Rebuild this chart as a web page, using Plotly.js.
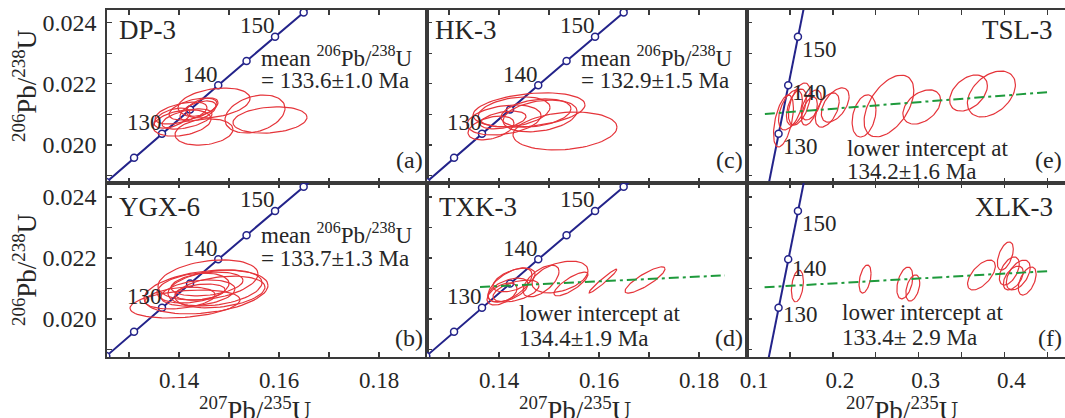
<!DOCTYPE html>
<html><head><meta charset="utf-8">
<script src="https://cdn.plot.ly/plotly-3.0.1.min.js"></script>
<style>html,body{margin:0;padding:0;background:#fff}#chart{width:1065px;height:418px}</style>
</head><body><div id="chart"></div>
<script>
// ---- Concordia reference points (age in Ma, 207Pb/235U, 206Pb/238U) ----
const conAge = [115,120,125,130,135,140,145,150,155,160];
const conX = [0.11992,0.12545,0.13100,0.13659,0.14220,0.14784,0.15350,0.15920,0.16492,0.17067];
const conY = [0.018000,0.018789,0.019580,0.020371,0.021163,0.021956,0.022748,0.023542,0.024335,0.025131];
const markAgesFine = [120,125,130,135,140,145,150,155];
const markAgesCoarse = [130,140,150];
const labelAges = [130,140,150];

// ---- (a) DP-3 ----
const dp3X   = [0.14699,0.14059,0.14499,0.15519,0.15819,0.14039,0.14279,0.14159,0.14379,0.14459,0.13859];
const dp3Y   = [0.021373,0.020720,0.020425,0.021014,0.020818,0.021046,0.021177,0.020850,0.021110,0.021240,0.020880];
const dp3SX  = [0.0072,0.0058,0.0058,0.0060,0.0074,0.0052,0.0048,0.0050,0.0036,0.0032,0.0036];
const dp3SY  = [0.00049,0.00043,0.00043,0.00062,0.00043,0.00036,0.00036,0.00033,0.00033,0.00030,0.00033];
const dp3Rho = [0.3,0.3,0.2,0.3,0.2,0.5,0.5,0.5,0.5,0.5,0.5];

// ---- (c) HK-3 ----
const hk3X   = [0.14599,0.15319,0.14099,0.14299,0.14819,0.14739,0.13839,0.14079];
const hk3Y   = [0.021145,0.020458,0.020818,0.021080,0.020950,0.021046,0.020556,0.020818];
const hk3SX  = [0.0112,0.0104,0.0074,0.0072,0.0074,0.0070,0.0046,0.0046];
const hk3SY  = [0.00056,0.00062,0.00049,0.00049,0.00052,0.00046,0.00039,0.00029];
const hk3Rho = [0.3,0.2,0.3,0.3,0.3,0.3,0.4,0.4];

// ---- (e) TSL-3 ----
const tsl3X   = [0.14234,0.15046,0.16090,0.17482,0.19338,0.20266,0.23630,0.26530,0.30358,0.35810,0.38478,0.17250,0.15740];
const tsl3Y   = [0.020785,0.021145,0.021340,0.021308,0.021145,0.021308,0.020950,0.021275,0.021243,0.021700,0.021668,0.021110,0.021240];
const tsl3SX  = [0.0116,0.0139,0.0128,0.0116,0.0139,0.0162,0.0139,0.0290,0.0220,0.0220,0.0280,0.0093,0.0116];
const tsl3SY  = [0.00085,0.00065,0.00069,0.00049,0.00056,0.00056,0.00069,0.00101,0.00056,0.00059,0.00075,0.00046,0.00059];
const tsl3Rho = [0.5,0.5,0.5,0.5,0.5,0.5,0.3,0.5,0.4,0.4,0.4,0.5,0.5];
const tsl3LineX = [0.12065,0.45322];
const tsl3LineY = [0.021014,0.021733];

// ---- (b) YGX-6 ----
const ygx6X   = [0.14119,0.14539,0.14579,0.14719,0.14379,0.14419,0.14559,0.14019,0.14279,0.14819];
const ygx6Y   = [0.020492,0.020886,0.021279,0.021017,0.020853,0.020886,0.021148,0.020689,0.021017,0.020886];
const ygx6SX  = [0.0110,0.0124,0.0100,0.0094,0.0074,0.0050,0.0072,0.0070,0.0072,0.0090];
const ygx6SY  = [0.00046,0.00072,0.00066,0.00059,0.00043,0.00026,0.00039,0.00036,0.00049,0.00052];
const ygx6Rho = [0.3,0.3,0.3,0.3,0.3,0.3,0.3,0.3,0.3,0.3];

// ---- (d) TXK-3 ----
const txk3X   = [0.14219,0.14179,0.14339,0.14299,0.14059,0.14839,0.15219,0.15439,0.16079,0.16919];
const txk3Y   = [0.021115,0.020951,0.020918,0.021279,0.020820,0.021246,0.021378,0.021148,0.021246,0.021279];
const txk3SX  = [0.0044,0.0040,0.0046,0.0042,0.0030,0.0036,0.0056,0.0034,0.0028,0.0040];
const txk3SY  = [0.00056,0.00039,0.00036,0.00039,0.00036,0.00052,0.00052,0.00039,0.00039,0.00043];
const txk3Rho = [0.6,0.5,0.5,0.5,0.5,0.6,0.4,0.8,0.97,0.85];
const txk3LineX = [0.13619,0.18519];
const txk3LineY = [0.021050,0.021430];

// ---- (f) XLK-3 ----
const xlk3X   = [0.15858,0.23746,0.28386,0.29314,0.37318,0.40102,0.40566,0.41610,0.42654,0.41030];
const xlk3Y   = [0.021082,0.021312,0.021181,0.021017,0.021443,0.022066,0.021574,0.021443,0.021246,0.021345];
const xlk3SX  = [0.0070,0.0070,0.0093,0.0081,0.0162,0.0093,0.0116,0.0139,0.0104,0.0116];
const xlk3SY  = [0.00052,0.00046,0.00052,0.00043,0.00049,0.00046,0.00046,0.00049,0.00046,0.00039];
const xlk3Rho = [0.3,0.4,0.4,0.4,0.6,0.5,0.5,0.5,0.5,0.5];
const xlk3LineX = [0.12030,0.45322];
const xlk3LineY = [0.021040,0.021574];

// ---- tick labels ----
const yTickVals = [0.019,0.020,0.021,0.022,0.023,0.024];
const yTickText = ['','0.020','','0.022','','0.024'];
const xTickValsA = [0.13,0.14,0.15,0.16,0.17,0.18];
const xTickTextA = ['','0.14','','0.16','','0.18'];
const xTickValsB = [0.10,0.15,0.20,0.25,0.30,0.35,0.40,0.45];
const xTickTextB = ['0.1','','0.2','','0.3','','0.4',''];

// ---- styling ----
const FONT = 'Liberation Serif, Times New Roman, serif';
const RED = '#e5343a', NAVY = '#23238a', GREEN = '#1e9a3c', FRAME = '#3a3a3a';
const TXT = '#262626';

function ellipseTrace(cx, cy, sx, sy, rho, xa, ya) {
  const xs = [], ys = [];
  const n = 72;
  for (let i = 0; i < cx.length; i++) {
    const k = Math.sqrt(1 - rho[i] * rho[i]);
    for (let j = 0; j <= n; j++) {
      const t = 2 * Math.PI * j / n;
      xs.push(cx[i] + sx[i] * Math.cos(t));
      ys.push(cy[i] + sy[i] * (rho[i] * Math.cos(t) + k * Math.sin(t)));
    }
    xs.push(null); ys.push(null);
  }
  return {x: xs, y: ys, xaxis: xa, yaxis: ya, mode: 'lines', type: 'scatter',
          line: {color: RED, width: 1.2}, hoverinfo: 'skip', showlegend: false};
}
function concordia(xa, ya, markAges) {
  const mx = [], my = [];
  conAge.forEach((a, i) => { if (markAges.includes(a)) { mx.push(conX[i]); my.push(conY[i]); } });
  return [
    {x: conX, y: conY, xaxis: xa, yaxis: ya, mode: 'lines', type: 'scatter',
     line: {color: NAVY, width: 2}, hoverinfo: 'skip', showlegend: false},
    {x: mx, y: my, xaxis: xa, yaxis: ya, mode: 'markers', type: 'scatter',
     marker: {size: 7, color: '#ffffff', line: {color: NAVY, width: 1.5}},
     hoverinfo: 'skip', showlegend: false}
  ];
}
function discordia(lx, ly, xa, ya) {
  return {x: lx, y: ly, xaxis: xa, yaxis: ya, mode: 'lines', type: 'scatter',
          line: {color: GREEN, width: 2, dash: '10px,4px,3px,4px'}, hoverinfo: 'skip', showlegend: false};
}

const traces = [
  ...concordia('x', 'y', markAgesFine), ellipseTrace(dp3X, dp3Y, dp3SX, dp3SY, dp3Rho, 'x', 'y'),
  ...concordia('x2', 'y2', markAgesFine), ellipseTrace(hk3X, hk3Y, hk3SX, hk3SY, hk3Rho, 'x2', 'y2'),
  ...concordia('x3', 'y3', markAgesCoarse), ellipseTrace(tsl3X, tsl3Y, tsl3SX, tsl3SY, tsl3Rho, 'x3', 'y3'),
  discordia(tsl3LineX, tsl3LineY, 'x3', 'y3'),
  ...concordia('x4', 'y4', markAgesFine), ellipseTrace(ygx6X, ygx6Y, ygx6SX, ygx6SY, ygx6Rho, 'x4', 'y4'),
  ...concordia('x5', 'y5', markAgesFine), ellipseTrace(txk3X, txk3Y, txk3SX, txk3SY, txk3Rho, 'x5', 'y5'),
  discordia(txk3LineX, txk3LineY, 'x5', 'y5'),
  ...concordia('x6', 'y6', markAgesCoarse), ellipseTrace(xlk3X, xlk3Y, xlk3SX, xlk3SY, xlk3Rho, 'x6', 'y6'),
  discordia(xlk3LineX, xlk3LineY, 'x6', 'y6'),
];

const W = 1065, H = 418;
const colDom = [[107 / W, 427 / W], [427 / W, 747 / W], [747 / W, 1]];
const rowDom = [[1 - 183 / H, 1 - 10 / H], [1 - 357 / H, 1 - 183 / H]];
const xRangeA = [0.12559, 0.18959], xRangeB = [0.0998, 0.4706];
const yRanges = [[0.018757, 0.024415], [0.018754, 0.02446]];

const layout = {
  width: W, height: H, margin: {l: 0, r: 0, t: 0, b: 0},
  paper_bgcolor: '#ffffff', plot_bgcolor: '#ffffff', showlegend: false,
  font: {family: FONT, size: 22, color: TXT}, annotations: []
};
for (let r = 0; r < 2; r++) {
  for (let c = 0; c < 3; c++) {
    const idx = r * 3 + c + 1;
    const xk = idx === 1 ? 'xaxis' : 'xaxis' + idx;
    const yk = idx === 1 ? 'yaxis' : 'yaxis' + idx;
    const xName = idx === 1 ? 'x' : 'x' + idx;
    const yName = idx === 1 ? 'y' : 'y' + idx;
    layout[xk] = {
      domain: colDom[c], anchor: yName, range: c === 2 ? xRangeB : xRangeA,
      tickmode: 'array', tickvals: c === 2 ? xTickValsB : xTickValsA,
      ticktext: c === 2 ? xTickTextB : xTickTextA,
      showticklabels: r === 1, ticks: 'inside', ticklen: 5, tickwidth: 1.3, tickcolor: FRAME,
      showline: true, linecolor: FRAME, linewidth: 1.6, mirror: 'ticks',
      showgrid: false, zeroline: false, tickfont: {family: FONT, size: 23, color: TXT},
      ticklabelshift: c === 2 ? 7 : 0, ticklabelstandoff: 2
    };
    layout[yk] = {
      domain: rowDom[r], anchor: xName, range: yRanges[r],
      tickmode: 'array', tickvals: yTickVals, ticktext: yTickText,
      showticklabels: c === 0, ticks: 'inside', ticklen: 5, tickwidth: 1.3, tickcolor: FRAME,
      showline: true, linecolor: FRAME, linewidth: 1.6, mirror: c === 2 ? false : true,
      showgrid: false, zeroline: false, tickfont: {family: FONT, size: 24, color: TXT},
      ticklabelstandoff: 4
    };
  }
}

function ann(text, px, py, size, xanchor, yanchor, extra) {
  layout.annotations.push(Object.assign({
    text: text, xref: 'paper', yref: 'paper', x: px / W, y: 1 - py / H,
    xanchor: xanchor, yanchor: yanchor, showarrow: false, borderpad: 0,
    font: {family: FONT, size: size, color: TXT}
  }, extra || {}));
}
// sample names
ann('DP-3', 118, 30, 27, 'left', 'middle');
ann('HK-3', 434, 30, 27, 'left', 'middle');
ann('TSL-3', 1054, 30, 27, 'right', 'middle');
ann('YGX-6', 118, 207, 27, 'left', 'middle');
ann('TXK-3', 438, 207, 27, 'left', 'middle');
ann('XLK-3', 1054, 207, 27, 'right', 'middle');
// mean ages
ann('mean <sup>206</sup>Pb/<sup>238</sup>U', 260, 56, 23, 'left', 'middle');
ann('= 133.6±1.0 Ma', 260, 81, 23, 'left', 'middle');
ann('mean <sup>206</sup>Pb/<sup>238</sup>U', 580, 56, 23, 'left', 'middle');
ann('= 132.9±1.5 Ma', 580, 81, 23, 'left', 'middle');
ann('mean <sup>206</sup>Pb/<sup>238</sup>U', 260, 233, 23, 'left', 'middle');
ann('= 133.7±1.3 Ma', 260, 258, 23, 'left', 'middle');
// intercepts
ann('lower intercept at', 846, 148, 23, 'left', 'middle');
ann('134.2±1.6 Ma', 846, 172, 23, 'left', 'middle');
ann('lower intercept at', 518, 313, 23, 'left', 'middle');
ann('134.4±1.9 Ma', 518, 338, 23, 'left', 'middle');
ann('lower intercept at', 841, 312, 23, 'left', 'middle');
ann('133.4± 2.9 Ma', 841, 337, 23, 'left', 'middle');
// panel letters
ann('(a)', 424, 160, 24, 'right', 'middle');
ann('(c)', 744, 160, 24, 'right', 'middle');
ann('(e)', 1063, 160, 24, 'right', 'middle');
ann('(b)', 424, 338, 24, 'right', 'middle');
ann('(d)', 744, 338, 24, 'right', 'middle');
ann('(f)', 1063, 338, 24, 'right', 'middle');
// axis titles
ann('<sup>206</sup>Pb/<sup>238</sup>U', 25, 86, 27, 'center', 'middle', {textangle: -90});
ann('<sup>206</sup>Pb/<sup>238</sup>U', 25, 270, 27, 'center', 'middle', {textangle: -90});
ann('<sup>207</sup>Pb/<sup>235</sup>U', 255, 391, 27, 'center', 'top');
ann('<sup>207</sup>Pb/<sup>235</sup>U', 575, 391, 27, 'center', 'top');
ann('<sup>207</sup>Pb/<sup>235</sup>U', 902, 391, 27, 'center', 'top');

// concordia age labels
const panels = [['x', 'y', 'left'], ['x2', 'y2', 'left'], ['x3', 'y3', 'right'],
                ['x4', 'y4', 'left'], ['x5', 'y5', 'left'], ['x6', 'y6', 'right']];
const rightShiftY = {e: {130: -13, 140: -7, 150: -13}, f: {130: -7, 140: -9, 150: -13}};
panels.forEach((p, pi) => {
  labelAges.forEach(a => {
    const i = conAge.indexOf(a);
    const base = {text: String(a), xref: p[0], yref: p[1], x: conX[i], y: conY[i], showarrow: false,
                  borderpad: 0, font: {family: FONT, size: 23, color: TXT}};
    if (p[2] === 'left') {
      Object.assign(base, {xanchor: 'center', yanchor: 'middle', xshift: -18, yshift: 11});
    } else {
      const key = pi === 2 ? 'e' : 'f';
      Object.assign(base, {xanchor: 'left', yanchor: 'middle', xshift: 3, yshift: rightShiftY[key][a]});
    }
    layout.annotations.push(base);
  });
});

Plotly.newPlot('chart', traces, layout, {staticPlot: true, displayModeBar: false});
</script>
</body></html>
